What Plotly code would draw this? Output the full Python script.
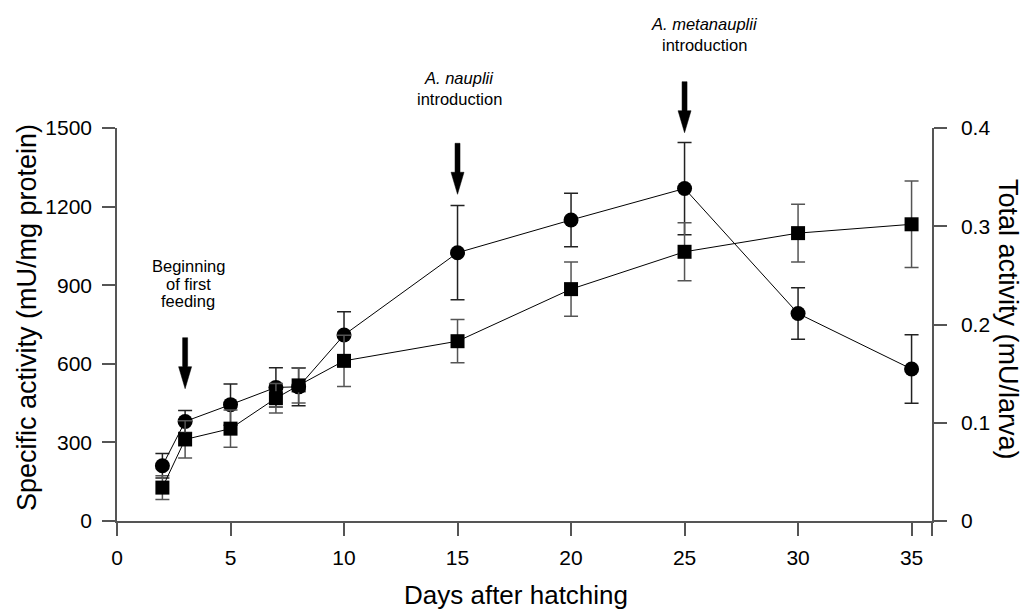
import plotly.graph_objects as go

# ---------------- data ----------------
days = [2, 3, 5, 7, 8, 10, 15, 20, 25, 30, 35]
# Specific activity (mU/mg protein) - circles, left axis
specific = [211, 380, 444, 510, 512, 710, 1024, 1149, 1269, 792, 580]
specific_err = [47, 42, 79, 75, 72, 89, 180, 102, 176, 98, 131]
# Total activity (mU/larva) - squares, right axis
total = [0.034, 0.083, 0.094, 0.125, 0.138, 0.163, 0.183, 0.236, 0.274, 0.293, 0.302]
total_err = [0.012, 0.019, 0.019, 0.015, 0.018, 0.026, 0.022, 0.0275, 0.0295, 0.0295, 0.044]

x_ticks = [0, 5, 10, 15, 20, 25, 30, 35]
y_left_ticks = [0, 300, 600, 900, 1200, 1500]
y_right_ticks = [0, 0.1, 0.2, 0.3, 0.4]
y_right_labels = ["0", "0.1", "0.2", "0.3", "0.4"]

X_MAX = 35.9
Y_MAX = 1500
Y2_MAX = 0.4

# event arrows: day, arrow tip value on left axis
arrow_days = [3, 15, 25]
arrow_tips = [505, 1247, 1482]

FONT = "Arial, Liberation Sans, sans-serif"
AXC = "#555555"

# page body has an 8px margin, so the figure is laid out 8px in from the page corner
W, H = 1024, 601
ML, MR, MT, MB = 109, 100, 120, 88
PW = W - ML - MR
PH = H - MT - MB

fig = go.Figure()

fig.add_trace(go.Scatter(
    x=days, y=total, yaxis="y2", mode="lines+markers",
    line=dict(color="black", width=1),
    marker=dict(symbol="square", size=14, color="black"),
    error_y=dict(type="data", array=total_err, visible=True,
                 color="#555555", thickness=1.5, width=7),
    showlegend=False, cliponaxis=False,
))
fig.add_trace(go.Scatter(
    x=days, y=specific, mode="lines+markers",
    line=dict(color="black", width=1),
    marker=dict(symbol="circle", size=15, color="black"),
    error_y=dict(type="data", array=specific_err, visible=True,
                 color="#222222", thickness=1.5, width=7),
    showlegend=False, cliponaxis=False,
))

axis_common = dict(
    showline=True, linecolor=AXC, linewidth=1.5,
    ticks="outside", ticklen=13, tickcolor=AXC, tickwidth=1.5,
    showgrid=False, zeroline=False,
    tickfont=dict(family=FONT, size=21, color="black"),
)

fig.update_layout(
    width=W, height=H,
    margin=dict(l=ML, r=MR, t=MT, b=MB),
    paper_bgcolor="white", plot_bgcolor="white",
    font=dict(family=FONT, color="black"),
    xaxis=dict(range=[0, X_MAX], tickvals=x_ticks + [X_MAX],
               ticktext=[str(v) for v in x_ticks] + [""],
               ticklabelstandoff=4, **axis_common),
    yaxis=dict(range=[0, Y_MAX], tickvals=y_left_ticks,
               ticklabelstandoff=6, **axis_common),
    yaxis2=dict(range=[0, Y2_MAX], tickvals=y_right_ticks,
                ticktext=y_right_labels, overlaying="y", side="right",
                ticklabelstandoff=10, **axis_common),
)

# arrows (pixel-sized shapes anchored at data day / tip value)
arrow_path = "M -2.5,51 L 2.5,51 L 2.5,22 L 6.5,22 L 0,0 L -6.5,22 L -2.5,22 Z"
for d, tip in zip(arrow_days, arrow_tips):
    fig.add_shape(type="path", xref="x", yref="paper",
                  xsizemode="pixel", ysizemode="pixel",
                  xanchor=d, yanchor=tip / Y_MAX,
                  path=arrow_path, fillcolor="black",
                  line=dict(color="black", width=0.5))

# event labels: (day, height in left-axis units, text, italic)
labels = [
    (3.14, 972, "Beginning", False),
    (3.14, 903, "of first", False),
    (3.14, 838, "feeding", False),
    (15.07, 1691, "A. nauplii", True),
    (15.07, 1611, "introduction", False),
    (25.87, 1897, "A. metanauplii", True),
    (25.87, 1817, "introduction", False),
]
for x, y, t, it in labels:
    fig.add_annotation(x=x, y=y / Y_MAX, xref="x", yref="paper",
                       text=f"<i>{t}</i>" if it else t,
                       showarrow=False, xanchor="center", yanchor="middle",
                       font=dict(family=FONT, size=16.5, color="black"))

# axis titles (positions given in page pixels, converted to paper fractions)
def px(xp):
    return (xp - 8 - ML) / PW

def py(yp):
    return (H - MB - (yp - 8)) / PH

fig.add_annotation(x=px(27), y=py(318), xref="paper", yref="paper",
                   text="Specific activity (mU/mg protein)", textangle=-90,
                   showarrow=False, xanchor="center", yanchor="middle",
                   font=dict(family=FONT, size=27, color="black"))
fig.add_annotation(x=px(1008), y=py(320), xref="paper", yref="paper",
                   text="Total activity (mU/larva)", textangle=90,
                   showarrow=False, xanchor="center", yanchor="middle",
                   font=dict(family=FONT, size=27, color="black"))
fig.add_annotation(x=px(515.5), y=py(595), xref="paper", yref="paper",
                   text="Days after hatching",
                   showarrow=False, xanchor="center", yanchor="middle",
                   font=dict(family=FONT, size=26, color="black"))

fig.write_html("out.html")
